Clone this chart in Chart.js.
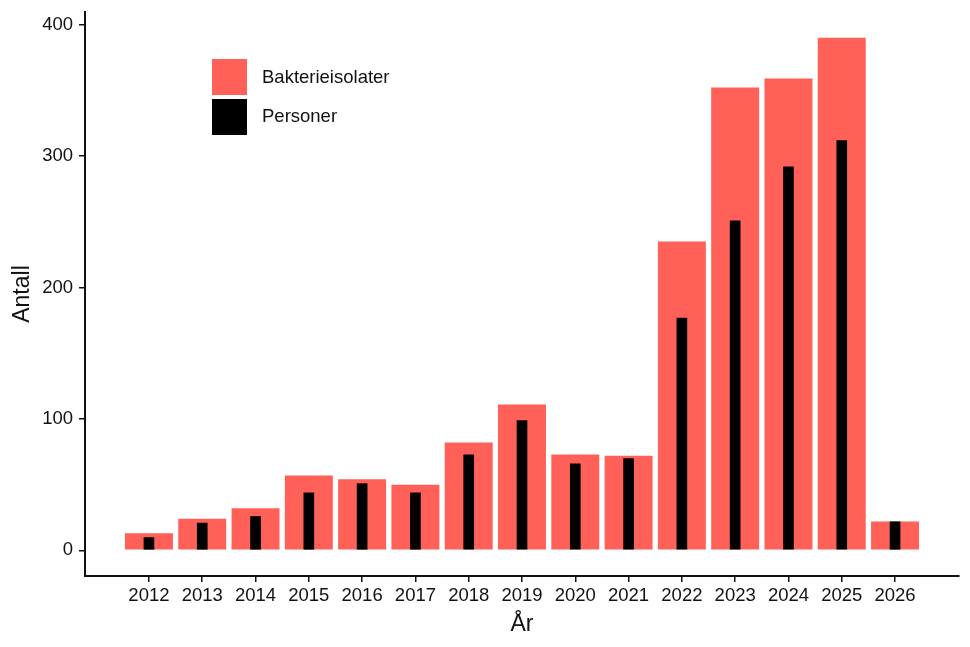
<!DOCTYPE html>
<html>
<head>
<meta charset="utf-8">
<script src="https://cdn.jsdelivr.net/npm/chart.js@4"></script>
<style>
  html, body { margin: 0; padding: 0; background: #fff; }
  #wrap { position: relative; width: 970px; height: 647px; font-family: 'Liberation Sans', Arial, sans-serif; }
  .key { position: absolute; left: 212px; width: 35px; height: 36px; }
  .keytxt { position: absolute; left: 262px; font-size: 18.5px; line-height: 22px; color: #111; white-space: nowrap; }
</style>
</head>
<body>
<div id="wrap">
  <canvas id="chart" width="970" height="647"></canvas>
  <div class="key" style="top:59px; background:#FF6057;"></div>
  <div class="key" style="top:99px; background:#000;"></div>
  <div class="keytxt" style="top:66px;">Bakterieisolater</div>
  <div class="keytxt" style="top:105px;">Personer</div>
</div>
<script>
// data lest av figuren
const years = [2012, 2013, 2014, 2015, 2016, 2017, 2018, 2019, 2020, 2021, 2022, 2023, 2024, 2025, 2026];
const bakterieisolater = [13, 24, 32, 57, 54, 50, 82, 111, 73, 72, 235, 352, 359, 390, 22];
const personer = [10, 21, 26, 44, 51, 44, 73, 99, 66, 70, 177, 251, 292, 312, 22];
const yTicks = [0, 100, 200, 300, 400];

const red = '#FF6057';
const ink = '#111';

Chart.defaults.font.family = "'Liberation Sans', Arial, sans-serif";

// tving faste akse-mål så plottområdet står der det skal
function fixPad(s) {
  s.paddingTop = 0; s.paddingBottom = 0; s.paddingLeft = 0; s.paddingRight = 0;
}

const ctx = document.getElementById('chart').getContext('2d');
const chart = new Chart(ctx, {
  type: 'bar',
  data: {
    datasets: [
      {
        label: 'Bakterieisolater',
        data: years.map((y, i) => ({ x: y, y: bakterieisolater[i] })),
        backgroundColor: red,
        barPercentage: 0.9,
        categoryPercentage: 1,
        grouped: false,
        order: 2
      },
      {
        label: 'Personer',
        data: years.map((y, i) => ({ x: y, y: personer[i] })),
        backgroundColor: '#000',
        barPercentage: 0.2,
        categoryPercentage: 1,
        grouped: false,
        order: 1
      }
    ]
  },
  options: {
    responsive: false,
    animation: false,
    layout: { padding: { top: 12, right: 11, left: 0, bottom: 0 } },
    plugins: { legend: { display: false }, tooltip: { enabled: false } },
    scales: {
      x: {
        type: 'linear',
        min: 2010.8,
        max: 2027.2,
        offset: false,
        afterBuildTicks: s => { s.ticks = years.map(v => ({ value: v })); },
        afterFit: s => { s.height = 71; fixPad(s); },
        grid: { offset: false, drawOnChartArea: false, drawTicks: true, tickLength: 6, lineWidth: 1.5, color: ink },
        border: { display: true, color: ink, width: 2 },
        ticks: {
          autoSkip: false, maxRotation: 0, padding: 3,
          color: ink, font: { size: 18.5 },
          callback: v => String(v)
        },
        title: { display: true, text: 'År', color: ink, font: { size: 23 }, padding: { top: 0, bottom: 9 } }
      },
      y: {
        min: -19.5,
        max: 409.5,
        afterBuildTicks: s => { s.ticks = yTicks.map(v => ({ value: v })); },
        afterFit: s => { s.width = 85; fixPad(s); },
        grid: { drawOnChartArea: false, drawTicks: true, tickLength: 6, lineWidth: 1.5, color: ink },
        border: { display: true, color: ink, width: 2 },
        ticks: { padding: 6, color: ink, font: { size: 18.5 }, callback: v => String(v) },
        title: { display: true, text: 'Antall', color: ink, font: { size: 23 }, padding: { top: 9, bottom: 0 } }
      }
    }
  }
});
</script>
</body>
</html>
